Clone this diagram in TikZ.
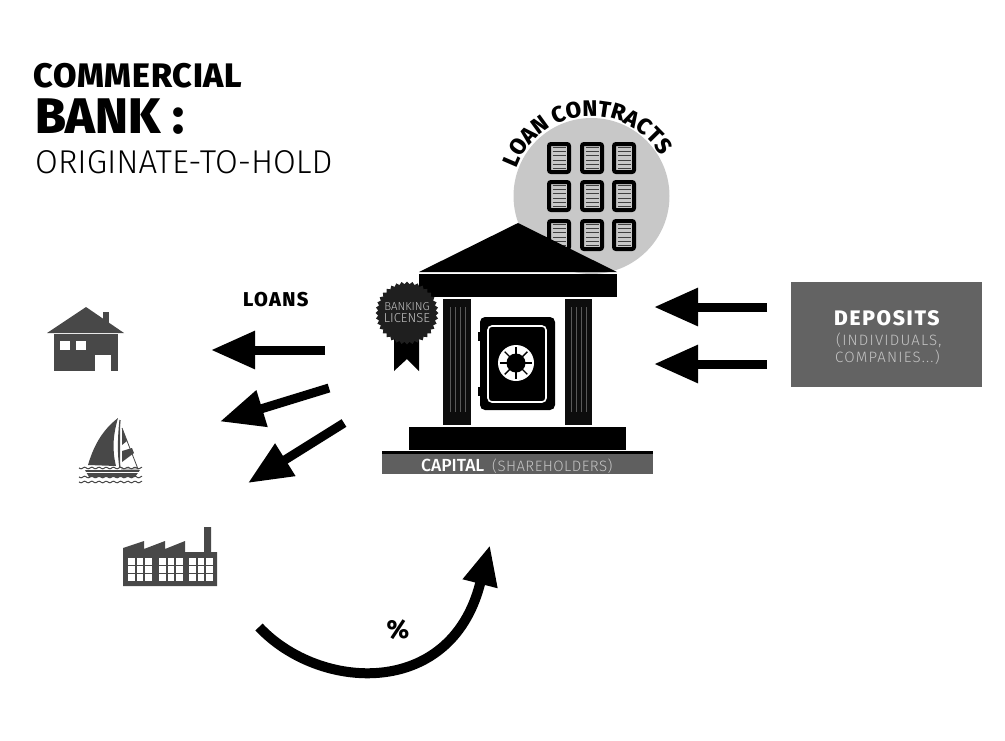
\documentclass[tikz,border=0pt]{standalone}
\usepackage{fontspec}
\setmainfont{Fira Sans}
\newfontfamily\finefont[LetterSpace=3]{Fira Sans Light}
\newfontfamily\heavyfont{Fira Sans ExtraBold}
\newfontfamily\midfont{Fira Sans Medium}
\usetikzlibrary{arrows.meta,shapes.geometric,decorations.text}

\definecolor{icongray}{HTML}{484848}
\definecolor{boxgray}{HTML}{636363}
\definecolor{bandgray}{HTML}{5F5F5F}
\definecolor{disc}{HTML}{C8C8C8}
\definecolor{softgray}{HTML}{C4C4C4}

\tikzset{
  label/.style={inner sep=0pt,anchor=base west},
  flow/.style={line width=9pt,-{Triangle[length=44pt,width=36pt]}},
  flute/.style={line width=0.8pt,color=black!65},
  sheet/.style={draw=black,line width=4pt,rounded corners=2pt,fill=disc},
  icon/.style={fill=icongray},
  wave/.style={line width=1pt,color=icongray}
}

\begin{document}
\begin{tikzpicture}[x=1pt,y=-1pt]

% white page, same size as the reference
\useasboundingbox (0,0) rectangle (1005,740);

% title
\node[label] (titleA) at (33,87) {\fontsize{34}{34}\heavyfont\addfontfeature{LetterSpace=2.5} COMMERCIAL};
\node[label] (titleB) at (35,133) {\fontsize{50}{50}\heavyfont BANK :};
\node[label] (titleC) at (35,173) {\fontsize{33}{33}\finefont\addfontfeature{LetterSpace=0} ORIGINATE-TO-HOLD};

% grey disc with the contracts
\fill[disc] (591.5,196) circle (78);
\foreach \x in {547,580,612} {
  \foreach \y in {142,180,219} {
    \draw[sheet] (\x+2,\y+2) rectangle (\x+22,\y+30);
    \foreach \k in {0,...,5} {
      \draw[line width=1pt,color=black!75] (\x+5.5,\y+5.5+\k*4.2) -- (\x+18.5,\y+5.5+\k*4.2);
    }
  }
}
\path[decorate,decoration={text along path,text align=center,
    text={|\fontsize{22.5}{22.5}\heavyfont|LOAN CONTRACTS}}]
  plot [domain=160:30,samples=60,variable=\t] ({591.5+80*cos(\t)},{196-80*sin(\t)});

% roof and beam
\fill[black] (518,223) -- (617,272) -- (419,272) -- cycle;
\fill[black] (419,274) rectangle (617,297);

% columns
\fill[black!95] (443,299) rectangle (471,425);
\fill[black!95] (565,299) rectangle (592,425);
\foreach \x in {450,455,460,465,571,576,581,586} {
  \draw[flute] (\x,307) -- (\x,412);
}

% base and capital band
\fill[black] (409,427) rectangle (626,450);
\fill[black] (382,451) rectangle (653,454);
\fill[bandgray] (382,454) rectangle (653,474);
\node[label,text=white] (capital) at (421,471) {\fontsize{17.5}{17.5}\midfont CAPITAL};
\node[label,text=softgray] (holders) at (492,471) {\fontsize{15}{15}\finefont (SHAREHOLDERS)};

% safe
\fill[black] (478,332) rectangle (482,341);
\fill[black] (478,387) rectangle (482,396);
\fill[black,rounded corners=5pt] (480,317) rectangle (555,410);
\draw[white,line width=1.6pt,rounded corners=4pt] (488,326) rectangle (546,402);
\coordinate (dial) at (516,363);
\fill[white] (dial) circle (18);
\fill[black] (dial) circle (9.5);
\foreach \a in {0,45,...,315} {
  \draw[black,line width=1.4pt] (dial) -- ++(\a:16);
}

% banking license
\fill[black] (394,335) -- (419,335) -- (419,371) -- (407,359) -- (394,371) -- cycle;
\node[star,star points=36,star point ratio=1.09,fill=black!88,draw=none,
  minimum size=63pt,inner sep=0pt] (badge) at (407,313) {};
\node[text=softgray,align=center,inner sep=0pt] (badgetext) at (badge.center)
  {\fontsize{11.5}{14.5}\finefont\addfontfeature{LetterSpace=0} BANKING\\
   \fontsize{13}{14.5}\finefont\addfontfeature{LetterSpace=0} LICENSE};

% deposits box
\fill[boxgray] (791,282) rectangle (982,387);
\node[label,text=white] (deposits) at (834,325) {\fontsize{21}{21}\heavyfont\addfontfeature{LetterSpace=8} DEPOSITS};
\node[label,text=softgray] (individuals) at (836,345) {\fontsize{15}{15}\finefont\addfontfeature{LetterSpace=8} (INDIVIDUALS,};
\node[label,text=softgray] (companies) at (835,362) {\fontsize{15}{15}\finefont\addfontfeature{LetterSpace=8} COMPANIES...)};

% deposit arrows
\coordinate (depA) at (767,307);
\coordinate (depB) at (767,364);
\coordinate (bankA) at (654,307);
\coordinate (bankB) at (654,364);
\draw[flow] (depA) -- (bankA);
\draw[flow] (depB) -- (bankB);

% loan arrows
\node[label] (loans) at (243,306) {\fontsize{20}{20}\heavyfont\addfontfeature{LetterSpace=7} LOANS};
\coordinate (outA) at (325,350);
\coordinate (outB) at (329,388);
\coordinate (outC) at (344,423);
\coordinate (toHouse) at (211,350);
\coordinate (toBoat) at (220,421.5);
\coordinate (toPlant) at (248,483);
\draw[flow] (outA) -- (toHouse);
\draw[flow] (outB) -- (toBoat);
\draw[flow] (outC) -- (toPlant);

% house
\fill[icon] (103,312) rectangle (109,325);
\fill[icon] (86,307) -- (124,333) -- (47,333) -- cycle;
\fill[icon] (54,334) rectangle (118,371);
\fill[white] (95,355) rectangle (111,371);
\fill[white] (60,341) rectangle (70,350);
\fill[white] (76,341) rectangle (86,350);

% boat
\fill[icon] (118,418) .. controls (101,431) and (93,448) .. (88,465) -- (116,466)
  .. controls (112,450) and (113,435) .. (118,418) -- cycle;
\draw[icon,draw=icongray,line width=1.2pt] (120,420) .. controls (118,440) and (118,455) .. (120,468);
\draw[icongray,line width=0.8pt] (122,428) -- (138,469) -- (121,469);
\fill[icon] (122,428) -- (127,441) -- (122,445) -- cycle;
\fill[icon] (122,451) -- (132,448) -- (134,453) -- (122,462) -- cycle;
\fill[icon] (85,470) -- (140,470) -- (135,477) -- (89,477) -- cycle;
\draw[white,line width=0.7pt] (85,472) -- (139,472);
\foreach \y in {468,477,482} {
  \draw[wave] plot [domain=79:142,samples=60,variable=\t] (\t,{\y+0.8*sin(\t*50)});
}

% factory
\fill[icon] (123,586) -- (123,548) -- (144,541) -- (144,549) -- (165,541) -- (165,549)
  -- (185,541) -- (185,552) -- (204,552) -- (204,527) -- (211,527) -- (211,552)
  -- (217,552) -- (217,586) -- cycle;
\foreach \x in {128,159,189} {
  \foreach \i in {0,1,2} {
    \foreach \j in {0,1,2} {
      \fill[white] (\x+\i*8.5,558+\j*8) rectangle (\x+\i*8.5+6.5,564.5+\j*8);
    }
  }
}

% interest
\coordinate (payStart) at (259,627);
\coordinate (payNeck) at (480,584);
\coordinate (payEnd) at (490,545);
\draw[line width=10pt,-{Triangle[length=40pt,width=33pt]}] (payStart) .. controls (319,691) and (450,699) .. (payNeck) -- (payEnd);
\node[inner sep=0pt] (percent) at (398,630) {\fontsize{26}{26}\heavyfont\%};

\end{tikzpicture}
\end{document}
